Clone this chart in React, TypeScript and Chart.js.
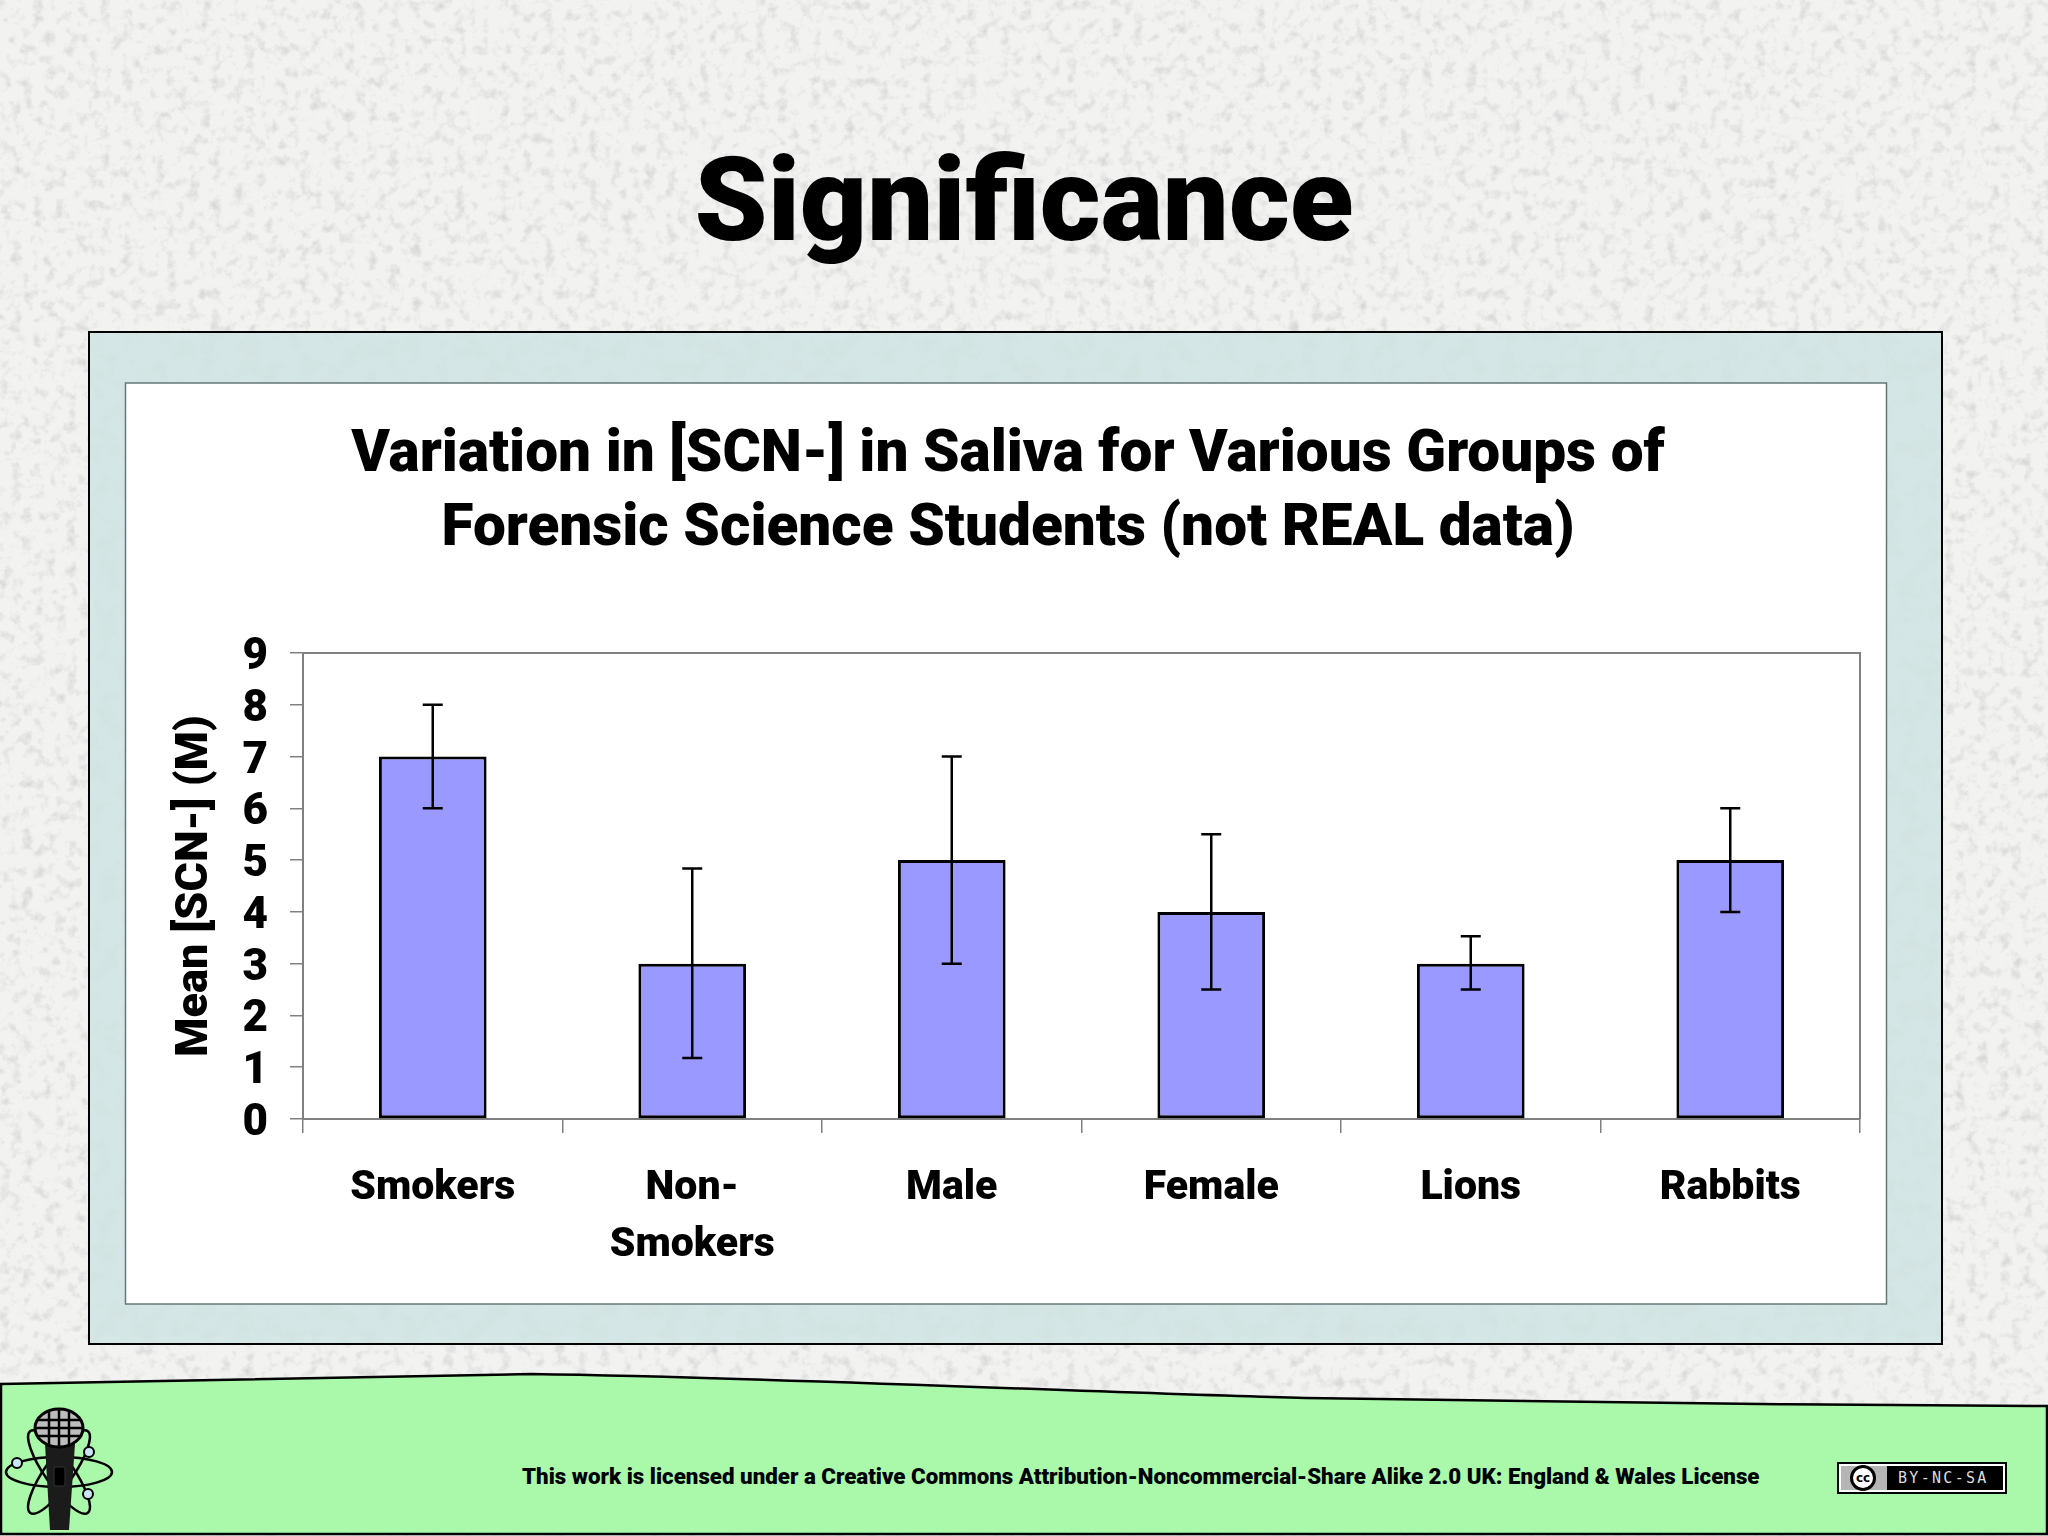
import { useEffect, useRef } from 'react';
import { Chart, registerables } from 'chart.js';
Chart.register(...registerables);

const categories = ['Smokers', ['Non-', 'Smokers'], 'Male', 'Female', 'Lions', 'Rabbits'];
const means = [7, 3, 5, 4, 3, 5];
const errorLow = [6, 1.18, 3, 2.5, 2.5, 4];
const errorHigh = [8, 4.84, 7, 5.5, 3.53, 6];
const yTicks = [0, 1, 2, 3, 4, 5, 6, 7, 8, 9];

const FONT = 'Roboto, "Open Sans", sans-serif';
const AXIS_GREY = '#808080';

const errorBars = {
  id: 'errorBars',
  afterDatasetsDraw(chart: any) {
    const { ctx, scales } = chart;
    const meta = chart.getDatasetMeta(0);
    ctx.save();
    ctx.strokeStyle = '#000';
    ctx.lineWidth = 2.5;
    means.forEach((_, i) => {
      const x = meta.data[i].x;
      const top = scales.y.getPixelForValue(errorHigh[i]);
      const bottom = scales.y.getPixelForValue(errorLow[i]);
      ctx.beginPath();
      ctx.moveTo(x, top);
      ctx.lineTo(x, bottom);
      ctx.moveTo(x - 10, top);
      ctx.lineTo(x + 10, top);
      ctx.moveTo(x - 10, bottom);
      ctx.lineTo(x + 10, bottom);
      ctx.stroke();
    });
    ctx.restore();
  },
};

const plotFrame = {
  id: 'plotFrame',
  beforeDatasetsDraw(chart: any) {
    const { ctx, chartArea: a } = chart;
    ctx.save();
    ctx.strokeStyle = AXIS_GREY;
    ctx.lineWidth = 2;
    ctx.beginPath();
    ctx.moveTo(a.left, a.top);
    ctx.lineTo(a.right, a.top);
    ctx.lineTo(a.right, a.bottom);
    ctx.stroke();
    ctx.restore();
  },
};

function SignificanceChart() {
  const canvasRef = useRef<HTMLCanvasElement>(null);

  useEffect(() => {
    if (!canvasRef.current) return;
    const chart = new Chart(canvasRef.current, {
      type: 'bar',
      data: {
        labels: categories as any,
        datasets: [{
          data: means,
          backgroundColor: '#9999ff',
          borderColor: '#000',
          borderWidth: 3,
          borderSkipped: false,
          categoryPercentage: 1,
          barPercentage: 0.415,
        }],
      },
      options: {
        animation: false,
        responsive: false,
        devicePixelRatio: 1,
        layout: { padding: { left: 31, right: 26 } },
        plugins: {
          legend: { display: false },
          tooltip: { enabled: false },
          title: {
            display: true,
            text: ['Variation in [SCN-] in Saliva for Various Groups of', 'Forensic Science Students (not REAL data)'],
            color: '#000',
            font: { family: FONT, size: 58.5, weight: 900, lineHeight: 74 / 58.5 },
            padding: { top: 36, bottom: 86 },
          },
        },
        scales: {
          x: {
            afterFit: (s: any) => { s.height = 185; },
            border: { color: AXIS_GREY, width: 2 },
            grid: { drawOnChartArea: false, color: AXIS_GREY, tickLength: 14, lineWidth: 1.5 },
            ticks: {
              color: '#000',
              autoSkip: false,
              maxRotation: 0,
              padding: 28,
              font: { family: FONT, size: 41, weight: 900, lineHeight: 1.37 },
            },
          },
          y: {
            min: yTicks[0],
            max: yTicks[yTicks.length - 1],
            afterFit: (s: any) => { s.width = 147; },
            border: { color: AXIS_GREY, width: 2 },
            grid: { drawOnChartArea: false, color: AXIS_GREY, tickLength: 13, lineWidth: 1.5 },
            ticks: {
              stepSize: 1,
              autoSkip: false,
              color: '#000',
              padding: 22,
              labelOffset: 5,
              font: { family: FONT, size: 44, weight: 900 },
            },
            title: {
              display: true,
              text: 'Mean [SCN-] (M)',
              color: '#000',
              font: { family: FONT, size: 45, weight: 900, lineHeight: 1.2 },
              padding: { top: 13, bottom: 0 },
            },
          },
        },
      },
      plugins: [errorBars, plotFrame],
    });
    return () => chart.destroy();
  }, []);

  return <canvas ref={canvasRef} width={1761} height={921} style={{ display: 'block' }} role="img" aria-label="Mean SCN- in saliva by group" />;
}

function Textures() {
  return (
    <svg width={2048} height={1536} style={{ position: 'absolute', left: 0, top: 0 }}>
      <defs>
        <filter id="paper" x="0" y="0" width="100%" height="100%">
          <feTurbulence type="fractalNoise" baseFrequency="0.09" numOctaves={4} seed={4} />
          <feColorMatrix type="matrix" values="0 0 0 0 0.68  0 0 0 0 0.68  0 0 0 0 0.68  2.4 0 0 0 -1.2" />
        </filter>
        <filter id="soft" x="0" y="0" width="100%" height="100%">
          <feTurbulence type="fractalNoise" baseFrequency="0.05" numOctaves={3} seed={9} />
          <feColorMatrix type="matrix" values="0 0 0 0 0.6  0 0 0 0 0.7  0 0 0 0 0.65  0.8 0 0 0 -0.38" />
        </filter>
      </defs>
      <rect width={2048} height={1536} fill="#f2f2f1" />
      <rect width={2048} height={1536} filter="url(#paper)" />
      <rect x={89} y={332} width={1853} height={1012} fill="#d4e6e5" stroke="#000" strokeWidth={2} />
      <rect x={90} y={333} width={1851} height={1010} filter="url(#soft)" />
      <rect x={125.5} y={383} width={1761} height={921} fill="#fff" stroke="#66777a" strokeWidth={1.5} />
      <path d="M1 1384 L531 1374 C800 1378 1100 1393 1306 1398 C1500 1402 1800 1405 2047 1406 L2047 1534 L1 1534 Z" fill="#aaf8aa" stroke="#000" strokeWidth={2.5} />
    </svg>
  );
}

function Logo() {
  return (
    <svg width={120} height={130} viewBox="0 1405 120 130" style={{ position: 'absolute', left: 0, top: 1405 }}>
      <g fill="none" stroke="#000" strokeWidth={2.5}>
        <ellipse cx={59} cy={1472} rx={53} ry={15} />
        <ellipse cx={59} cy={1472} rx={50} ry={14} transform="rotate(55 59 1472)" />
        <ellipse cx={59} cy={1472} rx={50} ry={14} transform="rotate(-55 59 1472)" />
      </g>
      <circle cx={17} cy={1463} r={5} fill="#c9e4f5" stroke="#000" strokeWidth={2} />
      <circle cx={89} cy={1452} r={5} fill="#c9e4f5" stroke="#000" strokeWidth={2} />
      <circle cx={88} cy={1494} r={5} fill="#c9e4f5" stroke="#000" strokeWidth={2} />
      <path d="M45 1444 L75 1444 L69 1530 L50 1530 Z" fill="#1b1b1b" />
      <rect x={54} y={1467} width={11} height={19} rx={2} fill="#000" stroke="#333" />
      <ellipse cx={59} cy={1428} rx={24} ry={19} fill="#bdbdbd" stroke="#000" strokeWidth={3} />
      <g stroke="#000" strokeWidth={2.5} fill="none">
        <path d="M37 1420 H81 M35 1428 H83 M37 1436 H81" />
        <path d="M49 1410 V1446 M59 1409 V1447 M69 1410 V1446" />
      </g>
    </svg>
  );
}

function CcBadge() {
  return (
    <div style={{ position: 'absolute', left: 1837, top: 1462, width: 170, height: 32, boxSizing: 'border-box', border: '2px solid #000', background: '#fff', padding: 2, display: 'flex' }}>
      <div style={{ width: 46, background: '#b5b5b5', position: 'relative' }}>
        <div style={{ position: 'absolute', left: 9, top: -1, width: 26, height: 26, boxSizing: 'border-box', borderRadius: 13, border: '3px solid #000', background: '#fff', textAlign: 'center', font: '700 12px/20px "DejaVu Sans", sans-serif', color: '#000' }}>cc</div>
      </div>
      <div style={{ flex: 1, background: '#000', color: '#ddd', font: '15px "DejaVu Sans Mono", monospace', letterSpacing: 2.3, lineHeight: '24px', paddingLeft: 11, whiteSpace: 'nowrap', overflow: 'hidden' }}>BY-NC-SA</div>
    </div>
  );
}

export default function App() {
  return (
    <div style={{ position: 'absolute', left: 0, top: 0, width: 2048, height: 1536, overflow: 'hidden', fontFamily: FONT }}>
      <Textures />
      <div style={{ position: 'absolute', left: 0, width: 2048, top: 120, textAlign: 'center', fontSize: 117, fontWeight: 900, lineHeight: '160px', color: '#000' }}>
        Significance
      </div>
      <div style={{ position: 'absolute', left: 125, top: 383 }}>
        <SignificanceChart />
      </div>
      <Logo />
      <div style={{ position: 'absolute', left: 522, top: 1461, width: 1240, lineHeight: '30px', fontSize: 22.3, fontWeight: 900, color: '#000', whiteSpace: 'nowrap' }}>
        This work is licensed under a Creative Commons Attribution-Noncommercial-Share Alike 2.0 UK: England &amp; Wales License
      </div>
      <CcBadge />
    </div>
  );
}
